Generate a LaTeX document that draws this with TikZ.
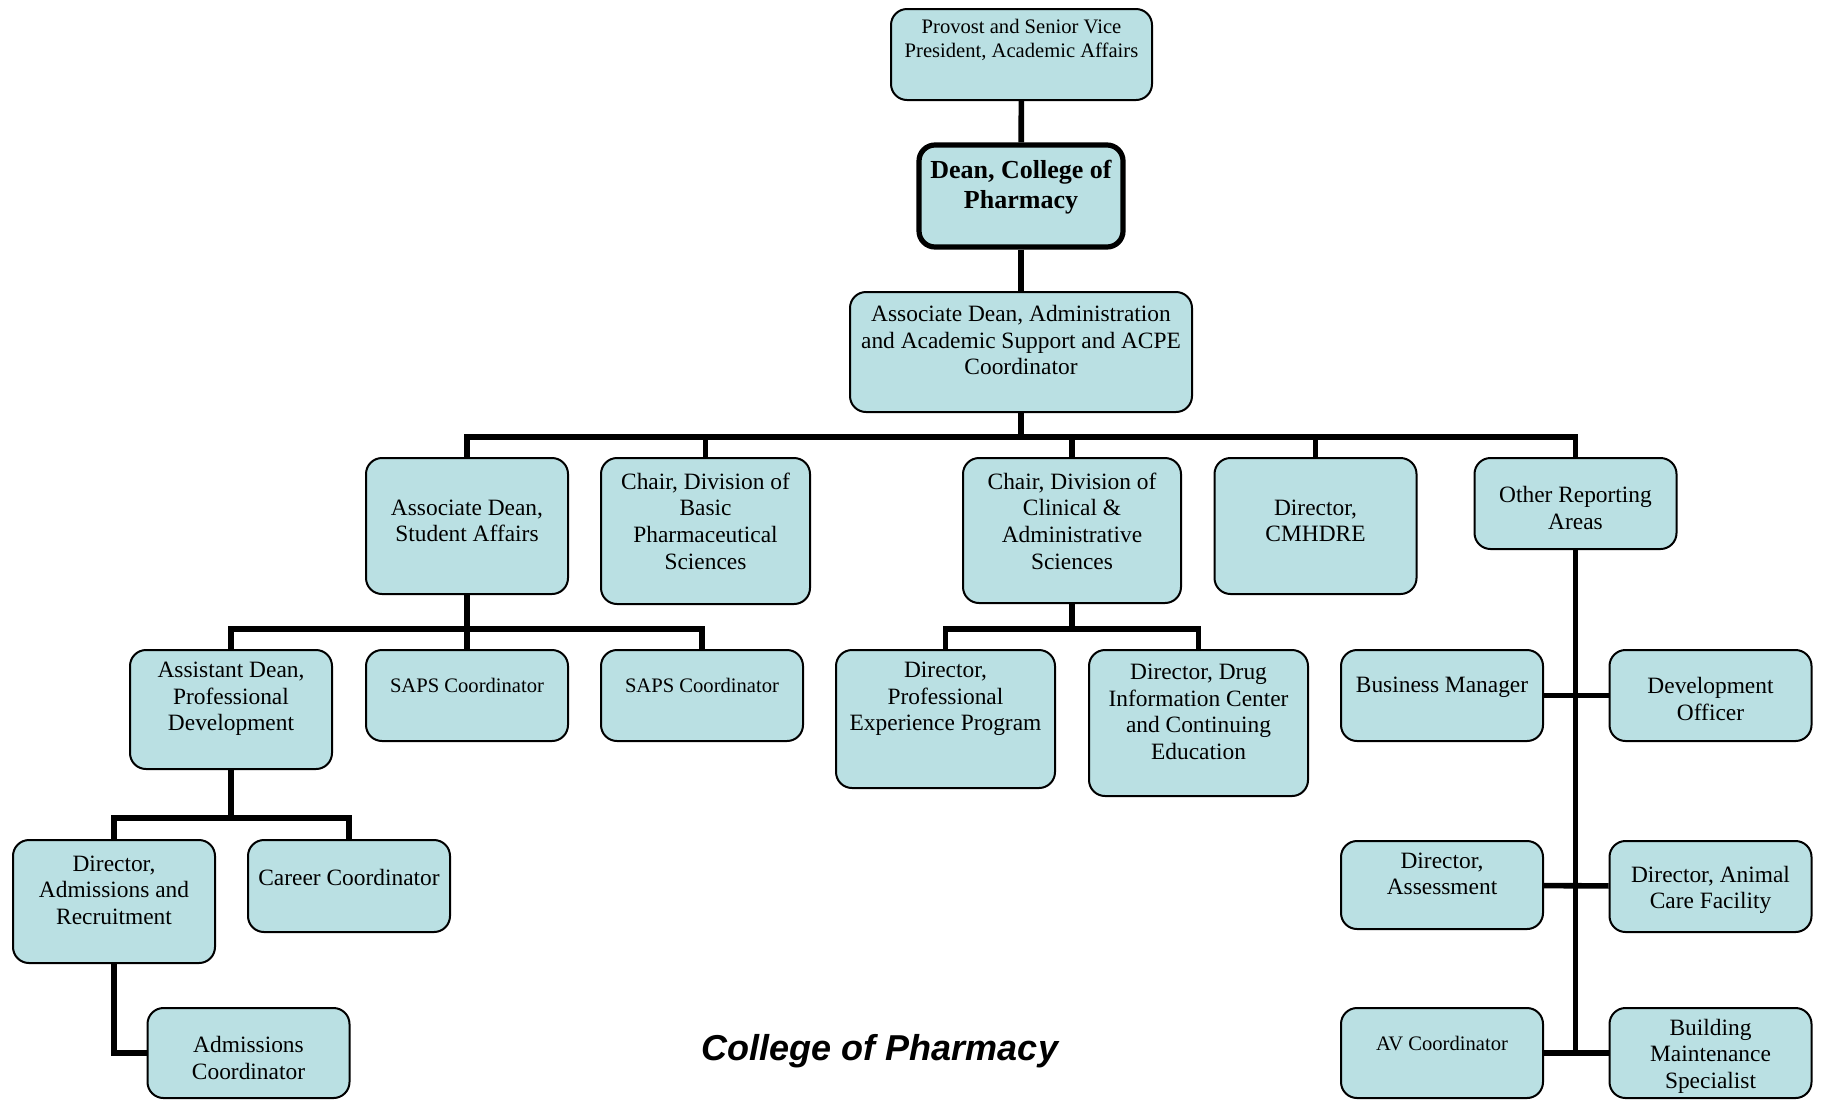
\documentclass[tikz,border=0pt]{standalone}
\usepackage{fontspec}
\setmainfont{Liberation Serif}
\newfontfamily\titlefont{Liberation Sans}
\usepackage{xcolor}
\usepackage{tikz}
\usetikzlibrary{positioning, calc}
\definecolor{boxfill}{RGB}{186,224,227}
\tikzset{
    orgbox/.style={
        rectangle,
        rounded corners=8pt,
        draw=black,
        line width=1pt,
        fill=boxfill,
        inner sep=0pt,
        minimum width=101pt,
        minimum height=45.5pt
    },
    deanbox/.style={
        orgbox,
        line width=2.6pt
    },
    orgtext/.style={
        align=center,
        inner sep=0pt,
        font=\fontsize{11.7}{13.3}\selectfont
    },
    smalltext/.style={
        orgtext,
        font=\fontsize{10.3}{12}\selectfont
    },
    deantext/.style={
        orgtext,
        font=\fontsize{13}{15}\selectfont\bfseries
    },
    connection/.style={
        draw=black,
        line width=2.8pt
    },
    charttitle/.style={
        inner sep=0pt,
        font=\titlefont\fontsize{18}{21}\selectfont\bfseries\itshape
    }
}
\begin{document}
\begin{tikzpicture}[x=0.5pt, y=-0.5pt]
\useasboundingbox (0,0) rectangle (1824,1099);
% Top of the chart
\node[orgbox, minimum width=130.5pt] (provost) at (1021.5,54.5) {};
\node[deanbox, minimum width=102pt, minimum height=51pt] (dean) at (1021,196) {};
\node[orgbox, minimum width=171pt, minimum height=60pt] (assocadmin) at (1021,352) {};
% Second row
\node[orgbox, minimum height=68pt] (studaff) at (467,526) {};
\node[orgbox, minimum width=104.5pt, minimum height=73pt] (chairbasic) at (705.5,531) {};
\node[orgbox, minimum width=109pt, minimum height=72.5pt] (chairclin) at (1072,530.5) {};
\node[orgbox, minimum height=68pt] (cmhdre) at (1315.5,526) {};
\node[orgbox] (other) at (1575.5,503.5) {};
% Third row
\node[orgbox, minimum height=59.5pt] (asstdean) at (231,709.5) {};
\node[orgbox] (saps1) at (467,695.5) {};
\node[orgbox] (saps2) at (702,695.5) {};
\node[orgbox, minimum width=109.5pt, minimum height=69pt] (dirpep) at (945.5,719) {};
\node[orgbox, minimum width=109.5pt, minimum height=73pt] (dirdrug) at (1198.5,723) {};
\node[orgbox] (busmgr) at (1442,695.5) {};
\node[orgbox] (devoff) at (1710.5,695.5) {};
% Lower rows
\node[orgbox, minimum height=61.5pt] (diradm) at (114,901.5) {};
\node[orgbox, minimum height=46pt] (career) at (349,886) {};
\node[orgbox, minimum height=45pt] (admcoord) at (248.5,1053) {};
\node[orgbox, minimum height=44pt] (dirassess) at (1442,885) {};
\node[orgbox] (diranimal) at (1710.5,886.5) {};
\node[orgbox, minimum height=45pt] (avcoord) at (1442,1053) {};
\node[orgbox, minimum height=45pt] (building) at (1710.5,1053) {};

% Texts
\node[smalltext] (provostlbl) at (1021.5,40) {Provost and Senior Vice\\President, Academic Affairs};
\node[deantext] (deanlbl) at (1021,187) {Dean, College of\\Pharmacy};
\node[orgtext] (assocadminlbl) at (1021,340) {Associate Dean, Administration\\and Academic Support and ACPE\\Coordinator};
\node[orgtext] (studafflbl) at (467,521) {Associate Dean,\\Student Affairs};
\node[orgtext] (chairbasiclbl) at (705.5,521) {Chair, Division of\\Basic\\Pharmaceutical\\Sciences};
\node[orgtext] (chairclinlbl) at (1072,521) {Chair, Division of\\Clinical \&\\Administrative\\Sciences};
\node[orgtext] (cmhdrelbl) at (1315.5,521) {Director,\\CMHDRE};
\node[orgtext] (otherlbl) at (1575.5,508) {Other Reporting\\Areas};
\node[orgtext] (asstdeanlbl) at (231,699) {Assistant Dean,\\Professional\\Development};
\node[smalltext] (saps1lbl) at (467,685) {SAPS Coordinator};
\node[smalltext] (saps2lbl) at (702,685) {SAPS Coordinator};
\node[orgtext] (dirpeplbl) at (945.5,699) {Director,\\Professional\\Experience Program};
\node[orgtext] (dirdruglbl) at (1198.5,712) {Director, Drug\\Information Center\\and Continuing\\Education};
\node[orgtext] (busmgrlbl) at (1442,687) {Business Manager};
\node[orgtext] (devofflbl) at (1710.5,699) {Development\\Officer};
\node[orgtext] (diradmlbl) at (114,890) {Director,\\Admissions and\\Recruitment};
\node[orgtext] (careerlbl) at (349,877) {Career Coordinator};
\node[orgtext] (admcoordlbl) at (248.5,1058) {Admissions\\Coordinator};
\node[orgtext] (dirassesslbl) at (1442,874) {Director,\\Assessment};
\node[orgtext] (diranimallbl) at (1710.5,890) {Director, Animal\\Care Facility};
\node[smalltext] (avcoordlbl) at (1442,1043) {AV Coordinator};
\node[orgtext] (buildinglbl) at (1710.5,1056) {Building\\Maintenance\\Specialist};

\node[charttitle] (title) at (880,1051) {College of Pharmacy};

% Connections
\draw[connection] (provost) -- (dean);
\draw[connection] (dean) -- (assocadmin);
\draw[connection] (assocadmin.south) -- ++(0,24) coordinate (bustop);
\foreach \n in {studaff,chairbasic,chairclin,cmhdre,other}
    \draw[connection] (bustop) -| (\n.north);
\draw[connection] (studaff.south) -- ++(0,34) coordinate (busstud);
\foreach \n in {asstdean,saps1,saps2}
    \draw[connection] (busstud) -| (\n.north);
\draw[connection] (chairclin.south) -- ++(0,25) coordinate (busclin);
\foreach \n in {dirpep,dirdrug}
    \draw[connection] (busclin) -| (\n.north);
\draw[connection] (asstdean.south) -- ++(0,48) coordinate (busasst);
\foreach \n in {diradm,career}
    \draw[connection] (busasst) -| (\n.north);
\draw[connection] (diradm.south) |- (admcoord.west);
\draw[connection] (other.south) -- (other.south |- avcoord.east);
\draw[connection] (busmgr) -- (devoff);
\draw[connection] (dirassess) -- (diranimal);
\draw[connection] (avcoord) -- (building);
\end{tikzpicture}
\end{document}
